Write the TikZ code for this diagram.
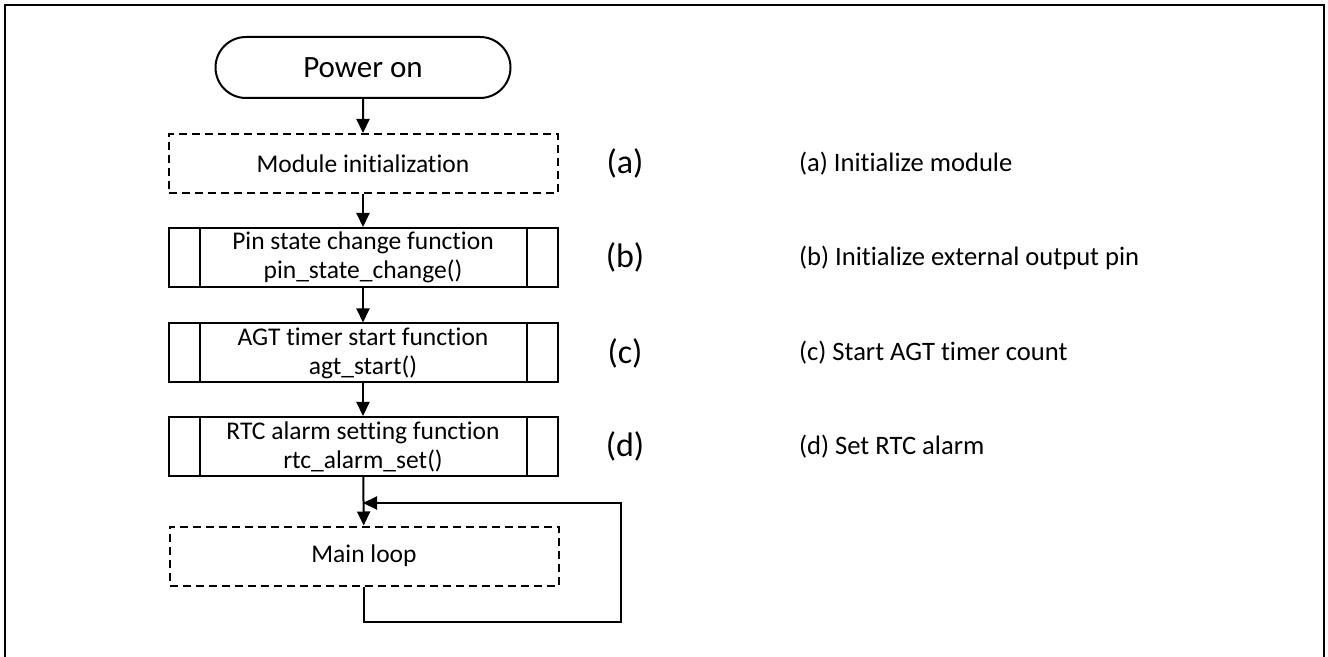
\documentclass[tikz,border=0pt]{standalone}
\usepackage{fontspec}
\setmainfont{Carlito}[Ligatures=NoCommon]
\usetikzlibrary{positioning,shapes.misc,arrows.meta}

\tikzset{
  box/.style={draw, line width=1pt, minimum width=194.5pt, minimum height=29.5pt,
    inner sep=0pt, align=center, font=\fontsize{12.75}{14.5}\selectfont},
  dashbox/.style={box, dash pattern=on 4pt off 2.5pt},
  term/.style={box, rounded rectangle, minimum width=147.5pt, minimum height=30.5pt,
    font=\fontsize{15.5}{18}\selectfont},
  tag/.style={font=\fontsize{17}{20}\selectfont},
  note/.style={anchor=west, font=\fontsize{13.3}{16}\selectfont},
  flow/.style={line width=1pt, -{Triangle[length=7pt,width=6.5pt]}}
}

\begin{document}
\begin{tikzpicture}[x=0.5pt, y=-0.5pt]
    \useasboundingbox (0,0) rectangle (1328,657);

    % cadre
    \draw[line width=1pt] (5,657) |- (1323.5,5) -- (1323.5,657);

    % Blocs (colonne)
    \node[term]    (start) at (363,67.5)  {Power on};
    \node[dashbox] (init)  at (363,163.5) {Module initialization};
    \node[box]     (pin)   at (363,257.5) {Pin state change function\\pin\_state\_change()};
    \node[box]     (agt)   at (363,353)   {AGT timer start function\\agt\_start()};
    \node[box]     (rtc)   at (363,446.5) {RTC alarm setting function\\rtc\_alarm\_set()};
    \node[dashbox] (loop)  at (364,556)   {Main loop};

    % Traits verticaux des sous-programmes
    \foreach \s in {pin,agt,rtc} {
        \draw[line width=1pt] ([xshift=16pt]\s.north west) -- ([xshift=16pt]\s.south west);
        \draw[line width=1pt] ([xshift=-16pt]\s.north east) -- ([xshift=-16pt]\s.south east);
    }

    % Repères et explications
    \node[tag] (ta) at (625,163.5) {(a)};
    \node[tag] (tb) at (625,257.5) {(b)};
    \node[tag] (tc) at (625,353)   {(c)};
    \node[tag] (td) at (625,446.5) {(d)};
    \node[note] (na) at (792,163.5) {(a) Initialize module};
    \node[note] (nb) at (792,257.5) {(b) Initialize external output pin};
    \node[note] (nc) at (792,353)   {(c) Start AGT timer count};
    \node[note] (nd) at (792,446.5) {(d) Set RTC alarm};

    % Flèches
    \draw[flow] (start) -- (init);
    \draw[flow] (init) -- (pin);
    \draw[flow] (pin) -- (agt);
    \draw[flow] (agt) -- (rtc);
    \draw[flow] (rtc) -- (loop);

    % Boucle
    \coordinate (merge) at (363,503);
    \coordinate (back)  at (621,622);
    \draw[flow] (loop.south) |- (back) |- (merge);
\end{tikzpicture}
\end{document}
